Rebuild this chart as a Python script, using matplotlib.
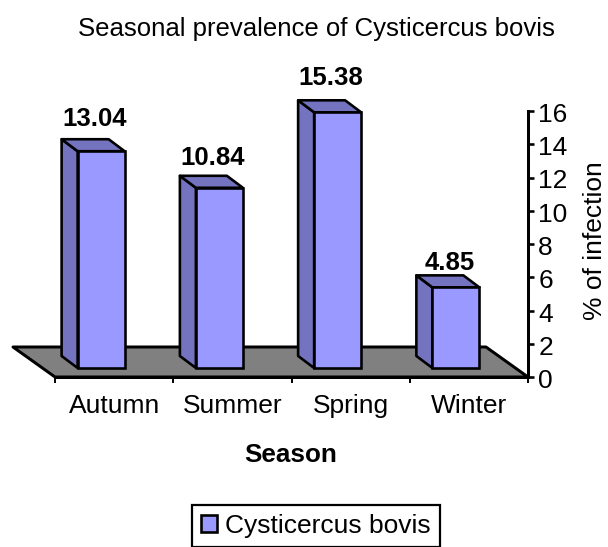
import matplotlib
matplotlib.use("Agg")
import matplotlib.pyplot as plt
from matplotlib.patches import Polygon, Patch
from matplotlib.transforms import ScaledTranslation

seasons = ["Autumn", "Summer", "Spring", "Winter"]
prevalence = [13.04, 10.84, 15.38, 4.85]
value_labels = ["13.04", "10.84", "15.38", "4.85"]
yticks = list(range(0, 17, 2))
series_name = "Cysticercus bovis"

W, H = 608, 547
plt.rcParams["font.family"] = ["Liberation Sans", "DejaVu Sans"]
FRONT, SIDE, FLOOR = "#9999FF", "#7373BF", "#808080"
EDGE = 2.6 * 72 / 100
FS = 19

fig = plt.figure(figsize=(W / 100, H / 100), dpi=100, facecolor="white")
L, R, T, B = 55, 528, 111, 377
ax = fig.add_axes([L / W, 1 - B / H, (R - L) / W, (B - T) / H])
ax.set_xlim(0, len(seasons))
ax.set_ylim(0, 16)
ux = (R - L) / len(seasons)   # px per category
uy = (B - T) / 16             # px per value unit

# floor
fdx, fdy = 42 / ux, 30 / uy
ax.add_patch(Polygon([(0, 0), (-fdx, fdy), (len(seasons) - fdx, fdy), (len(seasons), 0)],
                     closed=True, fc=FLOOR, ec="black", lw=EDGE * 1.15, clip_on=False,
                     joinstyle="round", zorder=1))

# bars
lift = 9 / uy
width = 47 / ux
dx, dy = 16 / ux, 12 / uy
xs = [i + 0.39 for i in range(len(seasons))]
ax.bar(xs, prevalence, width=width, bottom=lift, color=FRONT, edgecolor="black",
       linewidth=EDGE, zorder=3, clip_on=False)
for x, v, lab in zip(xs, prevalence, value_labels):
    x0, x1, y0, y1 = x - width / 2, x + width / 2, lift, lift + v
    ax.add_patch(Polygon([(x0, y0), (x0 - dx, y0 + dy), (x0 - dx, y1 + dy), (x0, y1)],
                         closed=True, fc=SIDE, ec="black", lw=EDGE, zorder=2.9,
                         clip_on=False, joinstyle="round"))
    ax.add_patch(Polygon([(x0, y1), (x0 - dx, y1 + dy), (x1 - dx, y1 + dy), (x1, y1)],
                         closed=True, fc=SIDE, ec="black", lw=EDGE, zorder=2.9,
                         clip_on=False, joinstyle="round"))
    off = (5 + (v - min(prevalence)) * 0.95) * 72 / 100
    ax.annotate(lab, (x - 6.5 / ux, y1 + dy), xytext=(0, off), textcoords="offset points",
                ha="center", va="baseline", fontsize=18.5, fontweight="bold",
                color="black", zorder=5, annotation_clip=False)

# axes
for s in ("top", "left"):
    ax.spines[s].set_visible(False)
for s in ("bottom", "right"):
    ax.spines[s].set_linewidth(EDGE * 1.15)
    ax.spines[s].set_zorder(2)
ax.patch.set_alpha(0)
ax.yaxis.tick_right()
ax.set_yticks(yticks)
ax.tick_params(axis="y", length=6 * 0.72, width=EDGE, pad=3, labelsize=FS)
shift = ScaledTranslation(0, -1.5 / 100, fig.dpi_scale_trans)
for t in ax.get_yticklabels():
    t.set_transform(t.get_transform() + shift)
ax.set_xticks(range(len(seasons) + 1))
ax.set_xticklabels([])
ax.tick_params(axis="x", length=6 * 0.72, width=1.4)
for i, s in enumerate(seasons):
    ax.annotate(s, (i + 0.5, 0), xytext=(0, -17 * 0.72), textcoords="offset points",
                ha="center", va="top", fontsize=FS, annotation_clip=False)


def ft(x, y):
    return x / W, 1 - y / H


fig.text(*ft(316, 29), "Seasonal prevalence of Cysticercus bovis", ha="center",
         va="center", fontsize=18.5)
fig.text(*ft(291, 455), "Season", ha="center", va="center", fontsize=18.8, fontweight="bold")
fig.text(*ft(595, 241), "% of infection", ha="center", va="center", rotation=90, fontsize=FS)

handle = Patch(fc=FRONT, ec="black", lw=EDGE)
leg = fig.legend(handles=[handle], labels=[series_name], loc="center",
                 bbox_to_anchor=ft(316, 526), fontsize=FS, frameon=True, fancybox=False,
                 edgecolor="black", framealpha=1, borderpad=0.35, handlelength=0.62,
                 handleheight=0.62, handletextpad=0.3, borderaxespad=0)
leg.get_frame().set_linewidth(1.6)

fig.savefig("out.png", dpi=100, facecolor="white")
